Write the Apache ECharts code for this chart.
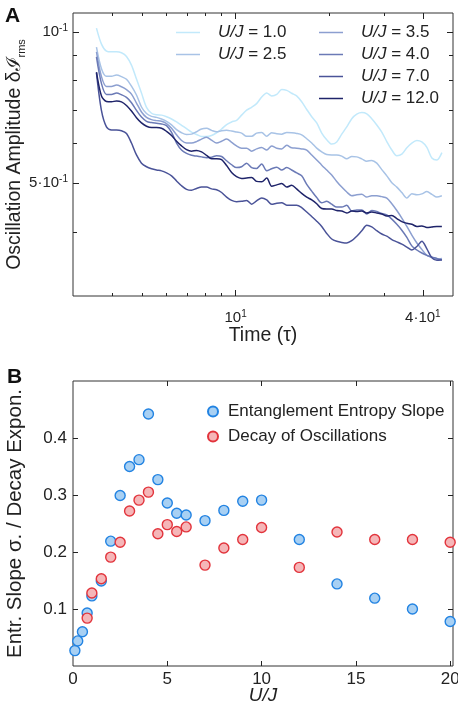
<!DOCTYPE html>
<html>
<head>
<meta charset="utf-8">
<script src="https://cdn.jsdelivr.net/npm/echarts@6/dist/echarts.min.js"></script>
<style>
html, body { margin: 0; padding: 0; background: #fff; }
#chart { width: 458px; height: 710px; }
</style>
</head>
<body>
<div id="chart"></div>
<script>
// ---- panel A : oscillation amplitude vs time (log-log) ----
const times = [3.569, 3.704, 3.843, 3.989, 4.139, 4.295, 4.458, 4.625, 4.800, 4.981,
  5.170, 5.365, 5.568, 5.778, 5.996, 6.223, 6.458, 6.701, 6.954, 7.216,
  7.489, 7.771, 8.065, 8.370, 8.686, 9.015, 9.355, 9.708, 10.07, 10.45,
  10.85, 11.26, 11.68, 12.13, 12.59, 13.06, 13.56, 14.07, 14.60, 15.14,
  15.71, 16.31, 16.93, 17.57, 18.23, 18.92, 19.63, 20.37, 21.14, 21.94,
  22.77, 23.63, 24.52, 25.45, 26.41, 27.40, 28.44, 29.51, 30.63, 31.79,
  32.99, 34.23, 35.53, 36.86, 38.26, 39.70, 41.21, 42.76, 44.37, 46.05];

const ampU10 = [0.1018, 0.0946, 0.0916, 0.0913, 0.0913, 0.0909, 0.0894, 0.0859, 0.0806, 0.0756,
  0.0708, 0.0689, 0.0684, 0.0683, 0.0678, 0.0671, 0.0662, 0.0652, 0.0642, 0.0632,
  0.0625, 0.0619, 0.0619, 0.0622, 0.0630, 0.0641, 0.0654, 0.0662, 0.0667, 0.0683,
  0.0699, 0.0708, 0.0720, 0.0742, 0.0756, 0.0746, 0.0751, 0.0768, 0.0765, 0.0755,
  0.0746, 0.0726, 0.0701, 0.0678, 0.0659, 0.0629, 0.0610, 0.0598, 0.0604, 0.0626,
  0.0647, 0.0672, 0.0686, 0.0691, 0.0687, 0.0672, 0.0653, 0.0632, 0.0605, 0.0582,
  0.0567, 0.0571, 0.0588, 0.0601, 0.0608, 0.0604, 0.0589, 0.0561, 0.0556, 0.0575];
const ampU25 = [0.0933, 0.0845, 0.0816, 0.0816, 0.0821, 0.0815, 0.0805, 0.0780, 0.0749, 0.0709,
  0.0688, 0.0679, 0.0676, 0.0671, 0.0664, 0.0653, 0.0639, 0.0630, 0.0625, 0.0626,
  0.0633, 0.0641, 0.0643, 0.0637, 0.0633, 0.0636, 0.0637, 0.0635, 0.0632, 0.0629,
  0.0620, 0.0620, 0.0629, 0.0631, 0.0620, 0.0630, 0.0627, 0.0626, 0.0631, 0.0630,
  0.0628, 0.0624, 0.0613, 0.0601, 0.0587, 0.0577, 0.0570, 0.0569, 0.0569, 0.0566,
  0.0559, 0.0565, 0.0564, 0.0559, 0.0553, 0.0555, 0.0548, 0.0532, 0.0517, 0.0501,
  0.0491, 0.0479, 0.0467, 0.0476, 0.0474, 0.0476, 0.0481, 0.0475, 0.0469, 0.0472];
const ampU35 = [0.0913, 0.0815, 0.0779, 0.0779, 0.0784, 0.0778, 0.0768, 0.0752, 0.0722, 0.0693,
  0.0676, 0.0669, 0.0666, 0.0664, 0.0657, 0.0643, 0.0624, 0.0608, 0.0601, 0.0601,
  0.0605, 0.0612, 0.0617, 0.0609, 0.0601, 0.0606, 0.0612, 0.0603, 0.0593, 0.0587,
  0.0587, 0.0579, 0.0585, 0.0589, 0.0582, 0.0593, 0.0587, 0.0585, 0.0595, 0.0588,
  0.0587, 0.0585, 0.0582, 0.0569, 0.0556, 0.0543, 0.0531, 0.0519, 0.0504, 0.0491,
  0.0480, 0.0472, 0.0474, 0.0475, 0.0469, 0.0472, 0.0472, 0.0470, 0.0467, 0.0455,
  0.0441, 0.0426, 0.0410, 0.0394, 0.0380, 0.0369, 0.0359, 0.0356, 0.0353, 0.0354];
const ampU40 = [0.0892, 0.0789, 0.0751, 0.0751, 0.0756, 0.0750, 0.0741, 0.0723, 0.0698, 0.0677,
  0.0664, 0.0660, 0.0658, 0.0656, 0.0651, 0.0631, 0.0601, 0.0582, 0.0573, 0.0568,
  0.0566, 0.0564, 0.0562, 0.0563, 0.0567, 0.0565, 0.0554, 0.0544, 0.0537, 0.0539,
  0.0548, 0.0537, 0.0535, 0.0546, 0.0529, 0.0534, 0.0538, 0.0531, 0.0537, 0.0531,
  0.0524, 0.0517, 0.0497, 0.0482, 0.0468, 0.0457, 0.0460, 0.0454, 0.0448, 0.0448,
  0.0452, 0.0440, 0.0442, 0.0442, 0.0434, 0.0441, 0.0439, 0.0435, 0.0432, 0.0424,
  0.0414, 0.0403, 0.0390, 0.0375, 0.0368, 0.0363, 0.0359, 0.0356, 0.0354, 0.0351];
const ampU70 = [0.0829, 0.0697, 0.0647, 0.0638, 0.0638, 0.0636, 0.0628, 0.0601, 0.0569, 0.0548,
  0.0539, 0.0534, 0.0531, 0.0529, 0.0524, 0.0517, 0.0505, 0.0494, 0.0486, 0.0484,
  0.0488, 0.0491, 0.0491, 0.0487, 0.0485, 0.0479, 0.0469, 0.0462, 0.0459, 0.0460,
  0.0462, 0.0454, 0.0461, 0.0467, 0.0463, 0.0454, 0.0456, 0.0457, 0.0452, 0.0452,
  0.0452, 0.0447, 0.0438, 0.0429, 0.0420, 0.0410, 0.0397, 0.0387, 0.0383, 0.0381,
  0.0380, 0.0384, 0.0392, 0.0402, 0.0412, 0.0409, 0.0402, 0.0396, 0.0392, 0.0386,
  0.0382, 0.0378, 0.0373, 0.0368, 0.0374, 0.0383, 0.0370, 0.0355, 0.0351, 0.0352];
const ampU120 = [0.0832, 0.0746, 0.0727, 0.0726, 0.0729, 0.0726, 0.0714, 0.0696, 0.0675, 0.0659,
  0.0649, 0.0645, 0.0645, 0.0643, 0.0634, 0.0622, 0.0606, 0.0593, 0.0583, 0.0579,
  0.0581, 0.0577, 0.0568, 0.0559, 0.0559, 0.0557, 0.0542, 0.0525, 0.0515, 0.0511,
  0.0512, 0.0513, 0.0504, 0.0503, 0.0512, 0.0493, 0.0496, 0.0499, 0.0491, 0.0495,
  0.0487, 0.0477, 0.0469, 0.0463, 0.0455, 0.0445, 0.0444, 0.0444, 0.0441, 0.0440,
  0.0436, 0.0440, 0.0439, 0.0440, 0.0436, 0.0438, 0.0436, 0.0434, 0.0430, 0.0431,
  0.0425, 0.0419, 0.0416, 0.0414, 0.0410, 0.0411, 0.0408, 0.0409, 0.0410, 0.0410];

const lineNames = ['U/J = 1.0', 'U/J = 2.5', 'U/J = 3.5', 'U/J = 4.0', 'U/J = 7.0', 'U/J = 12.0'];
const lineData = [ampU10, ampU25, ampU35, ampU40, ampU70, ampU120];
const lineColors = ['#c2e9fb', '#a8c3e6', '#8c9fd0', '#6b7ab6', '#4a5398', '#1f246a'];

const timeMinor = [4, 5, 6, 7, 8, 9, 20, 30];
const timeMajor = [10, 40];
const timeLabelText = ['{m|10}{s|1}', '{m|4·10}{s|1}'];
const ampMinor = [0.04, 0.06, 0.07, 0.08, 0.09];
const ampMajor = [0.05, 0.1];
const ampLabelText = ['{m|5·10}{s|-1}', '{m|10}{s|-1}'];

// ---- panel B : slopes vs U/J ----
const ujEntropy = [0.1, 0.25, 0.5, 0.75, 1.0, 1.5, 2.0, 2.5, 3.0, 3.5, 4.0, 4.5, 5.0, 5.5, 6.0,
  7.0, 8.0, 9.0, 10, 12, 14, 16, 18, 20];
const entropySlope = [0.027, 0.044, 0.060, 0.093, 0.123, 0.149, 0.219, 0.299, 0.350, 0.362, 0.442,
  0.327, 0.286, 0.268, 0.265, 0.255, 0.273, 0.289, 0.291, 0.222, 0.144, 0.119, 0.100, 0.078];
const ujDecay = [0.75, 1.0, 1.5, 2.0, 2.5, 3.0, 3.5, 4.0, 4.5, 5.0, 5.5, 6.0,
  7.0, 8.0, 9.0, 10, 12, 14, 16, 18, 20];
const decayExpon = [0.084, 0.128, 0.153, 0.191, 0.217, 0.272, 0.291, 0.305, 0.232, 0.248, 0.236,
  0.244, 0.177, 0.207, 0.222, 0.243, 0.173, 0.235, 0.222, 0.222, 0.217];
const ujTicks = [5, 10, 15, 20];
const ujLabels = [0, 5, 10, 15, 20];
const slopeTicks = [0.1, 0.2, 0.3, 0.4];

const font = "'Liberation Sans', Arial, Helvetica, sans-serif";
const ink = '#222';
const log = Math.log10;

function pickText(values, texts) {
  const logs = values.map(log);
  return v => {
    let best = 0;
    logs.forEach((l, i) => { if (Math.abs(l - v) < Math.abs(logs[best] - v)) best = i; });
    return texts[best];
  };
}

// value axis in log10 space used only to draw ticks/labels over the log data axis
function tickAxis(gridIndex, position, min, max, ticks, len, extra) {
  return Object.assign({
    type: 'value',
    gridIndex: gridIndex,
    position: position,
    min: min,
    max: max,
    axisLine: { show: false, onZero: false },
    splitLine: { show: false },
    axisTick: { show: true, inside: true, length: len, customValues: ticks,
      lineStyle: { color: ink, width: 1 } },
    axisLabel: { show: false }
  }, extra || {});
}

const supRich = {
  m: { fontSize: 15, fontFamily: font, color: ink, lineHeight: 18 },
  s: { fontSize: 10, fontFamily: font, color: ink, lineHeight: 10, verticalAlign: 'top' }
};

const xMin = log(3), xMax = log(50);
const yMin = log(0.0298), yMax = log(0.1091);

const chart = echarts.init(document.getElementById('chart'), null, { renderer: 'canvas' });

const lineSeries = lineData.map((vals, i) => ({
  name: lineNames[i],
  type: 'line',
  xAxisIndex: 0,
  yAxisIndex: 0,
  symbol: 'none',
  smooth: 0.3,
  data: times.map((t, j) => [t, vals[j]]),
  lineStyle: { color: lineColors[i], width: 1.5 },
  itemStyle: { color: lineColors[i] },
  z: 2 + i
}));

const legendText = {
  fontFamily: font, fontSize: 17, color: ink, padding: [0, 0, 0, 13],
  rich: { i: { fontFamily: font, fontSize: 17, fontStyle: 'italic', color: ink } }
};
const lineIcon = 'path://M0,0H24V1.5H0Z';

const option = {
  animation: false,
  backgroundColor: '#fff',
  textStyle: { fontFamily: font },
  title: [
    { text: 'A', left: 5, top: 6, padding: 0,
      textStyle: { fontSize: 21, fontWeight: 'bold', color: '#111', fontFamily: font } },
    { text: 'B', left: 7, top: 367, padding: 0,
      textStyle: { fontSize: 21, fontWeight: 'bold', color: '#111', fontFamily: font } }
  ],
  grid: [
    { left: 73, top: 13, right: 5, height: 283, show: true, borderColor: '#333', borderWidth: 1,
      containLabel: false, outerBoundsMode: 'none' },
    { left: 73, top: 381, right: 5, height: 285, show: true, borderColor: '#333', borderWidth: 1,
      containLabel: false, outerBoundsMode: 'none' }
  ],
  legend: [
    { data: lineNames.slice(0, 2), orient: 'vertical', left: 176, top: 24, padding: 0,
      icon: lineIcon, itemWidth: 24, itemHeight: 1.5, itemGap: 5, selectedMode: false,
      formatter: n => n.replace('U/J', '{i|U/J}'), textStyle: legendText },
    { data: lineNames.slice(2), orient: 'vertical', left: 319, top: 24, padding: 0,
      icon: lineIcon, itemWidth: 24, itemHeight: 1.5, itemGap: 5, selectedMode: false,
      formatter: n => n.replace('U/J', '{i|U/J}'), textStyle: legendText },
    { data: ['Entanglement Entropy Slope', 'Decay of Oscillations'], orient: 'vertical',
      left: 207, top: 403, padding: 0, itemWidth: 10, itemHeight: 10, itemGap: 8,
      selectedMode: false, icon: 'circle',
      textStyle: { fontFamily: font, fontSize: 17, color: ink, padding: [0, 0, 0, 5] } }
  ],
  xAxis: [
    { type: 'log', gridIndex: 0, min: 3, max: 50, show: false },
    tickAxis(0, 'bottom', xMin, xMax, timeMinor.map(log), 3),
    tickAxis(0, 'bottom', xMin, xMax, timeMajor.map(log), 6, {
      name: 'Time (τ)', nameLocation: 'middle', nameGap: 30, nameMoveOverlap: false,
      nameTextStyle: { fontSize: 19.5, fontFamily: font, color: ink },
      axisLabel: { show: true, customValues: timeMajor.map(log), margin: 13,
        formatter: pickText(timeMajor, timeLabelText), rich: supRich }
    }),
    tickAxis(0, 'top', xMin, xMax, timeMinor.map(log), 3),
    tickAxis(0, 'top', xMin, xMax, timeMajor.map(log), 6),
    { type: 'value', gridIndex: 1, position: 'bottom', min: 0, max: 20.15,
      name: 'U/J', nameLocation: 'middle', nameGap: 20, nameMoveOverlap: false,
      nameTextStyle: { fontSize: 19, fontStyle: 'italic', fontFamily: font, color: ink },
      axisLine: { show: false, onZero: false }, splitLine: { show: false },
      axisTick: { inside: true, length: 5, customValues: ujTicks, lineStyle: { color: ink } },
      axisLabel: { customValues: ujLabels, margin: 5, fontSize: 17, color: ink, fontFamily: font } },
    tickAxis(1, 'top', 0, 20.15, ujTicks, 5)
  ],
  yAxis: [
    { type: 'log', gridIndex: 0, min: 0.0298, max: 0.1091, show: false },
    tickAxis(0, 'left', yMin, yMax, ampMinor.map(log), 4),
    tickAxis(0, 'left', yMin, yMax, ampMajor.map(log), 6, {
      name: '{n|Oscillation Amplitude δℐ}{s|rms}', nameLocation: 'middle', nameGap: 46,
      nameMoveOverlap: false,
      nameTextStyle: { fontSize: 19.5, fontFamily: font, color: ink,
        rich: { n: { fontSize: 19.5, fontFamily: font, color: ink, lineHeight: 24 },
                s: { fontSize: 11, fontFamily: font, color: ink, lineHeight: 11, verticalAlign: 'bottom' } } },
      axisLabel: { show: true, customValues: ampMajor.map(log), margin: 5,
        formatter: pickText(ampMajor, ampLabelText), rich: supRich }
    }),
    tickAxis(0, 'right', yMin, yMax, ampMinor.map(log), 4),
    tickAxis(0, 'right', yMin, yMax, ampMajor.map(log), 6),
    { type: 'value', gridIndex: 1, position: 'left', min: 0, max: 0.5,
      name: 'Entr. Slope σ. / Decay Expon.', nameLocation: 'middle', nameGap: 47,
      nameMoveOverlap: false,
      nameTextStyle: { fontSize: 20.5, fontFamily: font, color: ink },
      axisLine: { show: false, onZero: false }, splitLine: { show: false },
      axisTick: { inside: true, length: 5, customValues: slopeTicks, lineStyle: { color: ink } },
      axisLabel: { customValues: slopeTicks, margin: 6, fontSize: 17, color: ink, fontFamily: font } },
    tickAxis(1, 'right', 0, 0.5, slopeTicks, 5)
  ],
  series: lineSeries.concat([
    { name: 'Entanglement Entropy Slope', type: 'scatter', xAxisIndex: 5, yAxisIndex: 5,
      symbolSize: 10, clip: false,
      itemStyle: { color: '#a8d0f3', borderColor: '#2283e2', borderWidth: 1.4, opacity: 1 },
      data: ujEntropy.map((u, i) => [u, entropySlope[i]]) },
    { name: 'Decay of Oscillations', type: 'scatter', xAxisIndex: 5, yAxisIndex: 5,
      symbolSize: 10, clip: false,
      itemStyle: { color: '#f5b6b8', borderColor: '#e2343c', borderWidth: 1.4, opacity: 1 },
      data: ujDecay.map((u, i) => [u, decayExpon[i]]) }
  ])
};

chart.setOption(option);
</script>
</body>
</html>
